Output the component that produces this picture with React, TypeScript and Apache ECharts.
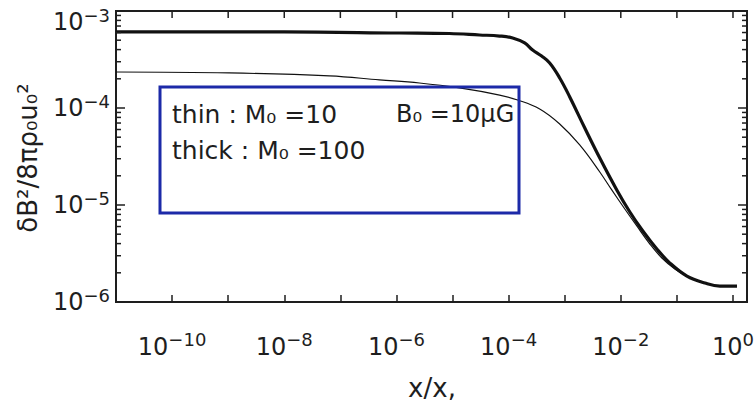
import { useEffect, useRef } from 'react';
import * as echarts from 'echarts';

// Axis ranges (log scales)
const X_MIN = 1e-11;
const X_MAX = 1.778;
const Y_MIN = 1e-6;
const Y_MAX = 1e-3;

// Thick curve: M0 = 100
const thickX = [
  1e-11, 1e-8, 1.13e-6, 8.83e-6, 3.03e-5, 6.9e-5, 1.18e-4, 1.93e-4, 2.68e-4, 3.88e-4,
  5.4e-4, 8.14e-4, 1.23e-3, 2.28e-3, 4.22e-3, 8.48e-3, 1.45e-2, 2.47e-2, 4.39e-2,
  7.5e-2, 0.151, 0.316, 0.586, 1.18,
];
const thickY = [
  6.08e-4, 6.08e-4, 5.93e-4, 5.86e-4, 5.66e-4, 5.52e-4, 5.27e-4, 4.68e-4, 3.96e-4, 3.43e-4,
  2.91e-4, 2.04e-4, 1.3e-4, 6.22e-5, 3.05e-5, 1.43e-5, 8.47e-6, 5.4e-6, 3.52e-6,
  2.52e-6, 1.85e-6, 1.57e-6, 1.46e-6, 1.46e-6,
];

// Thin curve: M0 = 10
const thinX = [
  1e-11, 1.04e-9, 6.37e-8, 4.97e-7, 2.57e-6, 1.33e-5, 6.9e-5, 1.45e-4, 3.58e-4, 8.14e-4,
  1.85e-3, 4.22e-3, 6.9e-3, 1.18e-2, 1.93e-2, 3.3e-2, 5.4e-2, 9.2e-2, 0.151, 0.316, 0.586, 1.18,
];
const thinY = [
  2.35e-4, 2.3e-4, 2.14e-4, 1.95e-4, 1.81e-4, 1.61e-4, 1.36e-4, 1.21e-4, 9.77e-5, 6.84e-5,
  4.16e-5, 2.19e-5, 1.43e-5, 9.1e-6, 6.08e-6, 3.96e-6, 2.84e-6, 2.19e-6, 1.85e-6, 1.57e-6,
  1.46e-6, 1.46e-6,
];

// Tick and label positions
const xTickValues = [1e-11, 1e-10, 1e-9, 1e-8, 1e-7, 1e-6, 1e-5, 1e-4, 1e-3, 1e-2, 1e-1, 1];
const xLabelValues = [1e-10, 1e-8, 1e-6, 1e-4, 1e-2, 1];
const yLabelValues = [1e-6, 1e-5, 1e-4, 1e-3];
const yDecades = [1e-6, 1e-5, 1e-4];
const ySubdivisions = [2, 3, 4, 5, 6, 7, 8, 9];

const legendLines = ['thin : M₀ =10', 'thick : M₀ =100'];
const fieldLabel = 'B₀ =10μG';
const yTitle = 'δB²/8πρ₀u₀²';
const xTitle = 'x/x,';

const FONT = 'DejaVu Sans';
const INK = '#1e1e1e';
const BOX = '#1c2aa8';
const BASE_SIZE = 24;
const EXP_SIZE = 18;

const sup = (e: number) => `${e < 0 ? '−' : ''}${Math.abs(e)}`;

let measureCtx: CanvasRenderingContext2D | null = null;
const textWidth = (s: string, size: number) => {
  if (!measureCtx) measureCtx = document.createElement('canvas').getContext('2d');
  if (!measureCtx) return s.length * size * 0.6;
  measureCtx.font = `${size}px "${FONT}"`;
  return measureCtx.measureText(s).width;
};

const tickLine = (x1: number, y1: number, x2: number, y2: number) => ({
  type: 'line',
  shape: { x1, y1, x2, y2 },
  style: { stroke: INK, lineWidth: 1.5 },
});

const label = (text: string, x: number, y: number, size: number, align: string) => ({
  type: 'text',
  x,
  y,
  style: {
    text,
    fontFamily: FONT,
    fontSize: size,
    fill: INK,
    align,
    verticalAlign: 'middle',
    textAlign: align,
    textVerticalAlign: 'middle',
  },
});

export default function App() {
  const ref = useRef<HTMLDivElement>(null);

  useEffect(() => {
    if (!ref.current) return;
    const chart = echarts.init(ref.current, null, { renderer: 'svg' });

    const yMinorValues: number[] = [];
    yDecades.forEach((d) => ySubdivisions.forEach((m) => yMinorValues.push(m * d)));

    chart.setOption({
      animation: false,
      backgroundColor: '#ffffff',
      grid: {
        left: 116,
        right: 7,
        top: 11,
        bottom: 107,
        show: true,
        borderColor: INK,
        borderWidth: 2,
        backgroundColor: 'transparent',
        outerBoundsMode: 'none',
      },
      xAxis: {
        type: 'log',
        min: X_MIN,
        max: X_MAX,
        interval: 1,
        splitLine: { show: false },
        axisLine: { show: true, onZero: false, lineStyle: { color: INK, width: 2 } },
        axisTick: { show: true, inside: true, length: 7, lineStyle: { color: INK, width: 1.5 } },
        axisLabel: { show: false },
      },
      yAxis: {
        type: 'log',
        min: Y_MIN,
        max: Y_MAX,
        interval: 1,
        splitLine: { show: false },
        axisLine: { show: true, onZero: false, lineStyle: { color: INK, width: 2 } },
        axisTick: { show: true, inside: true, length: 9, lineStyle: { color: INK, width: 1.5 } },
        axisLabel: { show: false },
      },
      series: [
        {
          name: 'thick',
          type: 'line',
          data: thickX.map((x, i) => [x, thickY[i]]),
          showSymbol: false,
          smooth: 0.4,
          lineStyle: { color: '#111111', width: 3.2 },
          z: 3,
        },
        {
          name: 'thin',
          type: 'line',
          data: thinX.map((x, i) => [x, thinY[i]]),
          showSymbol: false,
          smooth: 0.4,
          lineStyle: { color: '#111111', width: 1.2 },
          z: 2,
        },
        {
          // inward decade ticks on the top frame edge
          name: 'topTicks',
          type: 'custom',
          clip: false,
          silent: true,
          data: xTickValues.map((v) => [v, Y_MAX]),
          renderItem: (params: any, api: any) => {
            const cs = params.coordSys;
            const p = api.coord([api.value(0), api.value(1)]);
            return tickLine(p[0], cs.y, p[0], cs.y + 7);
          },
          z: 5,
        },
        {
          // decade ticks on the right frame edge
          name: 'rightTicks',
          type: 'custom',
          clip: false,
          silent: true,
          data: yLabelValues.map((v) => [X_MAX, v]),
          renderItem: (params: any, api: any) => {
            const cs = params.coordSys;
            const p = api.coord([api.value(0), api.value(1)]);
            const r = cs.x + cs.width;
            return tickLine(r, p[1], r - 9, p[1]);
          },
          z: 5,
        },
        {
          // 2..9 subdivision ticks on both vertical frame edges
          name: 'minorTicks',
          type: 'custom',
          clip: false,
          silent: true,
          data: yMinorValues.map((v) => [X_MIN, v]),
          renderItem: (params: any, api: any) => {
            const cs = params.coordSys;
            const p = api.coord([api.value(0), api.value(1)]);
            const r = cs.x + cs.width;
            return {
              type: 'group',
              children: [tickLine(cs.x, p[1], cs.x + 5, p[1]), tickLine(r, p[1], r - 5, p[1])],
            };
          },
          z: 5,
        },
        {
          // x tick labels: 10 with a raised exponent
          name: 'xLabels',
          type: 'custom',
          clip: false,
          silent: true,
          data: xLabelValues.map((v) => [v, Y_MIN]),
          renderItem: (params: any, api: any) => {
            const cs = params.coordSys;
            const v = api.value(0);
            const p = api.coord([v, api.value(1)]);
            const exp = sup(Math.round(Math.log10(v)));
            const wBase = textWidth('10', BASE_SIZE);
            const wExp = textWidth(exp, EXP_SIZE);
            const split = p[0] + (wBase - wExp) / 2;
            const yBase = cs.y + cs.height + 45;
            return {
              type: 'group',
              children: [
                label('10', split, yBase, BASE_SIZE, 'right'),
                label(exp, split, yBase - 8, EXP_SIZE, 'left'),
              ],
            };
          },
          z: 6,
        },
        {
          // y tick labels: right-aligned next to the left frame edge
          name: 'yLabels',
          type: 'custom',
          clip: false,
          silent: true,
          data: yLabelValues.map((v) => [X_MIN, v]),
          renderItem: (params: any, api: any) => {
            const cs = params.coordSys;
            const v = api.value(1);
            const p = api.coord([api.value(0), v]);
            const e = Math.round(Math.log10(v));
            const exp = sup(e);
            const right = cs.x - 6;
            const wExp = textWidth(exp, EXP_SIZE);
            const yBase = v >= Y_MAX ? p[1] + 11 : p[1];
            return {
              type: 'group',
              children: [
                label('10', right - wExp, yBase, BASE_SIZE, 'right'),
                label(exp, right, yBase - 7, EXP_SIZE, 'right'),
              ],
            };
          },
          z: 6,
        },
      ],
      graphic: [
        {
          type: 'rect',
          shape: { x: 160, y: 87, width: 359, height: 126 },
          style: { fill: 'none', stroke: BOX, lineWidth: 3 },
          z: 10,
        },
        {
          type: 'text',
          x: 172,
          y: 114,
          style: { text: legendLines[0], fontFamily: FONT, fontSize: 25, fill: INK, align: 'left', verticalAlign: 'middle' },
          z: 11,
        },
        {
          type: 'text',
          x: 172,
          y: 150,
          style: { text: legendLines[1], fontFamily: FONT, fontSize: 25, fill: INK, align: 'left', verticalAlign: 'middle' },
          z: 11,
        },
        {
          type: 'text',
          x: 396,
          y: 114,
          style: { text: fieldLabel, fontFamily: FONT, fontSize: 24, fill: INK, align: 'left', verticalAlign: 'middle' },
          z: 11,
        },
        {
          type: 'text',
          x: 28,
          y: 158,
          rotation: Math.PI / 2,
          style: { text: yTitle, fontFamily: FONT, fontSize: 26, fill: INK, align: 'center', verticalAlign: 'middle' },
        },
        {
          type: 'text',
          x: 432,
          y: 388,
          style: { text: xTitle, fontFamily: FONT, fontSize: 26, fill: INK, align: 'center', verticalAlign: 'middle' },
        },
      ],
    });

    return () => chart.dispose();
  }, []);

  return (
    <div
      ref={ref}
      style={{ position: 'fixed', left: 0, top: 0, width: 754, height: 409, background: '#fff' }}
    />
  );
}
